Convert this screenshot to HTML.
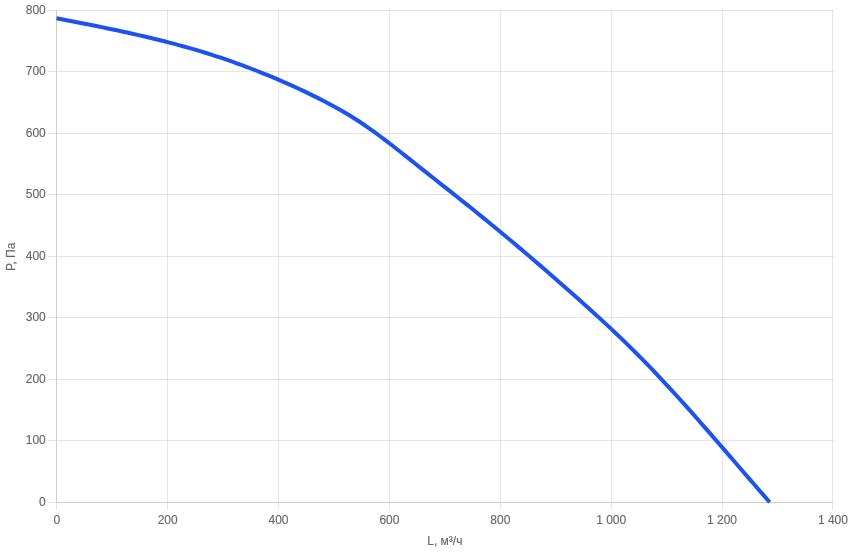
<!DOCTYPE html><html><head><meta charset="utf-8"><title>chart</title><style>html,body{margin:0;padding:0;background:#fff}svg{display:block}text{font-family:"Liberation Sans",Arial,sans-serif;font-size:12px;fill:#666;stroke:#666;stroke-width:0.12px}</style></head><body>
<svg width="851" height="553" viewBox="0 0 851 553">
<rect width="851" height="553" fill="#fff"/>
<line x1="56.5" y1="10" x2="56.5" y2="510" stroke="rgba(0,0,0,0.1)" stroke-width="1"/>
<line x1="167.5" y1="10" x2="167.5" y2="510" stroke="rgba(0,0,0,0.1)" stroke-width="1"/>
<line x1="278.5" y1="10" x2="278.5" y2="510" stroke="rgba(0,0,0,0.1)" stroke-width="1"/>
<line x1="389.5" y1="10" x2="389.5" y2="510" stroke="rgba(0,0,0,0.1)" stroke-width="1"/>
<line x1="500.5" y1="10" x2="500.5" y2="510" stroke="rgba(0,0,0,0.1)" stroke-width="1"/>
<line x1="611.5" y1="10" x2="611.5" y2="510" stroke="rgba(0,0,0,0.1)" stroke-width="1"/>
<line x1="722.5" y1="10" x2="722.5" y2="510" stroke="rgba(0,0,0,0.1)" stroke-width="1"/>
<line x1="832.5" y1="10" x2="832.5" y2="510" stroke="rgba(0,0,0,0.1)" stroke-width="1"/>
<line x1="48" y1="502.5" x2="833" y2="502.5" stroke="rgba(0,0,0,0.1)" stroke-width="1"/>
<line x1="48" y1="440.5" x2="833" y2="440.5" stroke="rgba(0,0,0,0.1)" stroke-width="1"/>
<line x1="48" y1="379.5" x2="833" y2="379.5" stroke="rgba(0,0,0,0.1)" stroke-width="1"/>
<line x1="48" y1="317.5" x2="833" y2="317.5" stroke="rgba(0,0,0,0.1)" stroke-width="1"/>
<line x1="48" y1="256.5" x2="833" y2="256.5" stroke="rgba(0,0,0,0.1)" stroke-width="1"/>
<line x1="48" y1="194.5" x2="833" y2="194.5" stroke="rgba(0,0,0,0.1)" stroke-width="1"/>
<line x1="48" y1="133.5" x2="833" y2="133.5" stroke="rgba(0,0,0,0.1)" stroke-width="1"/>
<line x1="48" y1="71.5" x2="833" y2="71.5" stroke="rgba(0,0,0,0.1)" stroke-width="1"/>
<line x1="48" y1="10.5" x2="833" y2="10.5" stroke="rgba(0,0,0,0.1)" stroke-width="1"/>
<line x1="56.5" y1="10" x2="56.5" y2="503" stroke="#cdcdcd" stroke-width="1"/>
<line x1="56" y1="502.5" x2="833" y2="502.5" stroke="#cdcdcd" stroke-width="1"/>
<path d="M56.50 18.25 L61.63 19.24 L66.76 20.24 L71.89 21.24 L77.02 22.24 L82.15 23.25 L87.29 24.27 L92.42 25.29 L97.55 26.32 L102.68 27.36 L107.81 28.42 L112.94 29.49 L118.07 30.57 L123.20 31.67 L128.33 32.79 L133.46 33.93 L138.59 35.09 L143.73 36.27 L148.86 37.48 L153.99 38.71 L159.12 39.97 L164.25 41.26 L169.38 42.58 L174.51 43.92 L179.64 45.31 L184.77 46.72 L189.90 48.18 L195.04 49.67 L200.17 51.20 L205.30 52.77 L210.43 54.38 L215.56 56.03 L220.69 57.72 L225.82 59.45 L230.95 61.22 L236.08 63.04 L241.21 64.90 L246.34 66.80 L251.48 68.75 L256.61 70.74 L261.74 72.77 L266.87 74.85 L272.00 76.97 L277.13 79.14 L282.26 81.35 L287.39 83.61 L292.52 85.92 L297.65 88.27 L302.78 90.67 L307.92 93.12 L313.05 95.61 L318.18 98.16 L323.31 100.76 L328.44 103.42 L333.57 106.17 L338.70 109.01 L343.83 111.96 L348.96 115.02 L354.09 118.21 L359.23 121.53 L364.36 124.99 L369.49 128.56 L374.62 132.24 L379.75 136.01 L384.88 139.86 L390.01 143.77 L395.14 147.74 L400.27 151.76 L405.40 155.81 L410.53 159.89 L415.67 163.98 L420.80 168.08 L425.93 172.17 L431.06 176.24 L436.19 180.30 L441.32 184.34 L446.45 188.38 L451.58 192.42 L456.71 196.48 L461.84 200.57 L466.97 204.67 L472.11 208.80 L477.24 212.95 L482.37 217.11 L487.50 221.30 L492.63 225.52 L497.76 229.75 L502.89 234.00 L508.02 238.28 L513.15 242.57 L518.28 246.89 L523.42 251.23 L528.55 255.58 L533.68 259.96 L538.81 264.36 L543.94 268.78 L549.07 273.22 L554.20 277.68 L559.33 282.17 L564.46 286.67 L569.59 291.19 L574.72 295.73 L579.86 300.30 L584.99 304.89 L590.12 309.51 L595.25 314.17 L600.38 318.87 L605.51 323.61 L610.64 328.40 L615.77 333.24 L620.90 338.14 L626.03 343.10 L631.16 348.12 L636.30 353.21 L641.43 358.38 L646.56 363.62 L651.69 368.94 L656.82 374.33 L661.95 379.78 L667.08 385.30 L672.21 390.88 L677.34 396.51 L682.47 402.19 L687.61 407.92 L692.74 413.69 L697.87 419.49 L703.00 425.33 L708.13 431.19 L713.26 437.08 L718.39 442.99 L723.52 448.92 L728.65 454.86 L733.78 460.80 L738.91 466.74 L744.05 472.69 L749.18 478.62 L754.31 484.55 L759.44 490.46 L764.57 496.36 L769.70 502.23" fill="none" stroke="#1e52ee" stroke-width="4" stroke-linejoin="round"/>
<text x="45.8" y="505.6" text-anchor="end">0</text>
<text x="45.8" y="444.1" text-anchor="end">100</text>
<text x="45.8" y="382.6" text-anchor="end">200</text>
<text x="45.8" y="321.1" text-anchor="end">300</text>
<text x="45.8" y="259.6" text-anchor="end">400</text>
<text x="45.8" y="198.1" text-anchor="end">500</text>
<text x="45.8" y="136.6" text-anchor="end">600</text>
<text x="45.8" y="75.1" text-anchor="end">700</text>
<text x="45.8" y="13.6" text-anchor="end">800</text>
<text x="56.8" y="523.8" text-anchor="middle">0</text>
<text x="167.7" y="523.8" text-anchor="middle">200</text>
<text x="278.5" y="523.8" text-anchor="middle">400</text>
<text x="389.4" y="523.8" text-anchor="middle">600</text>
<text x="500.3" y="523.8" text-anchor="middle">800</text>
<text x="611.2" y="523.8" text-anchor="middle">1 000</text>
<text x="722.0" y="523.8" text-anchor="middle">1 200</text>
<text x="832.9" y="523.8" text-anchor="middle">1 400</text>
<text x="444.8" y="545" text-anchor="middle">L, м³/ч</text>
<text transform="translate(15 256.8) rotate(-90)" text-anchor="middle">P, Па</text>
</svg></body></html>
